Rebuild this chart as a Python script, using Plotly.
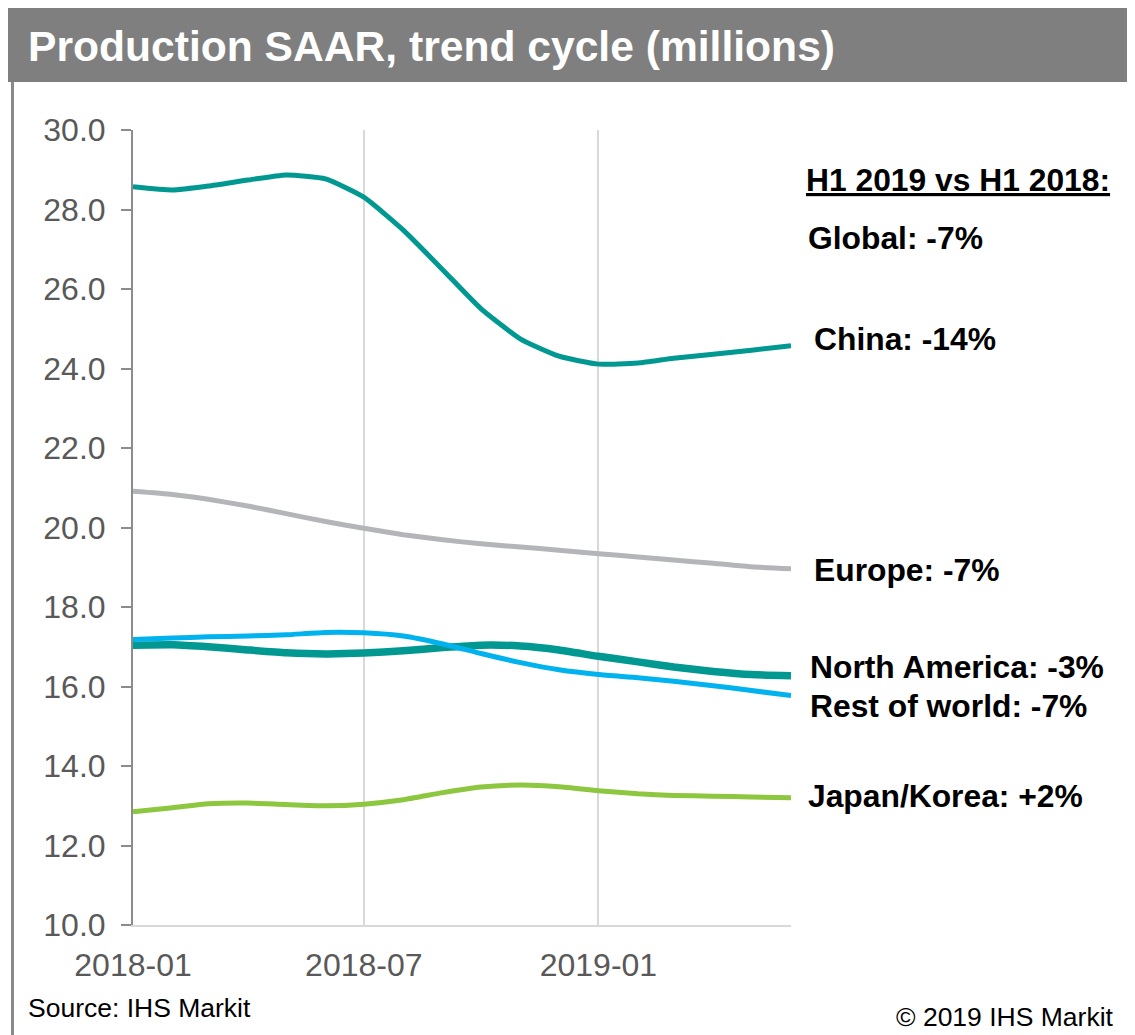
import plotly.graph_objects as go

# ---- data ----
months = ["2018-01-01", "2018-02-01", "2018-03-01", "2018-04-01", "2018-05-01", "2018-06-01",
          "2018-07-01", "2018-08-01", "2018-09-01", "2018-10-01", "2018-11-01", "2018-12-01",
          "2019-01-01", "2019-02-01", "2019-03-01", "2019-04-01", "2019-05-01", "2019-06-01"]
china = [28.57, 28.49, 28.59, 28.74, 28.87, 28.77, 28.31, 27.48, 26.48, 25.50, 24.74, 24.31,
         24.11, 24.14, 24.26, 24.36, 24.46, 24.57]
europe = [20.91, 20.83, 20.71, 20.54, 20.35, 20.15, 19.98, 19.82, 19.69, 19.59, 19.51, 19.43,
          19.34, 19.26, 19.18, 19.10, 19.01, 18.96]
north_america = [17.04, 17.05, 17.00, 16.92, 16.85, 16.82, 16.84, 16.90, 16.98, 17.04, 17.02, 16.92,
                 16.76, 16.62, 16.49, 16.38, 16.30, 16.27]
rest_of_world = [17.18, 17.22, 17.25, 17.27, 17.30, 17.36, 17.35, 17.27, 17.07, 16.83, 16.60, 16.42,
                 16.30, 16.22, 16.13, 16.02, 15.90, 15.77]
japan_korea = [12.85, 12.95, 13.05, 13.07, 13.03, 13.00, 13.04, 13.15, 13.33, 13.47, 13.52, 13.48,
               13.38, 13.30, 13.26, 13.24, 13.22, 13.20]

x_tickvals = ["2018-01-01", "2018-07-01", "2019-01-01"]
x_ticktext = ["2018-01", "2018-07", "2019-01"]
y_tickvals = [10, 12, 14, 16, 18, 20, 22, 24, 26, 28, 30]

labels = ["H1 2019 vs H1 2018:", "Global: -7%", "China: -14%", "Europe: -7%",
          "North America: -3%", "Rest of world: -7%", "Japan/Korea: +2%"]

title_text = "Production SAAR, trend cycle (millions)"
source_text = "Source: IHS Markit"
copyright_text = "© 2019 IHS Markit"

# ---- layout geometry (page pixels; the page body has an 8px margin) ----
OFF = 8
W, H = 1135 - OFF, 1035 - OFF
PLOT_L, PLOT_R, PLOT_T, PLOT_B = 133, 791, 130, 925   # target page pixels
L, T = PLOT_L - OFF, PLOT_T - OFF
R, B = W - (PLOT_R - OFF), H - (PLOT_B - OFF)
PW, PH = PLOT_R - PLOT_L, PLOT_B - PLOT_T


def px(x):
    return (x - PLOT_L) / PW


def py(y):
    return (PLOT_B - y) / PH


FONT = "Arial, Liberation Sans, sans-serif"
teal = "#009890"

fig = go.Figure()
series = [
    (europe, "#B3B5B9", 5, "Europe"),
    (china, teal, 5, "China"),
    (japan_korea, "#8DC63F", 5, "Japan/Korea"),
    (north_america, teal, 7.5, "North America"),
    (rest_of_world, "#00B2EE", 5, "Rest of world"),
]
for vals, col, w, name in series:
    fig.add_trace(go.Scatter(x=months, y=vals, mode="lines", name=name,
                             line=dict(color=col, width=w, shape="spline", smoothing=0.5),
                             hoverinfo="x+y+name"))

shapes = [
    dict(type="rect", xref="paper", yref="paper", x0=px(5), x1=px(1145), y0=py(82), y1=py(4),
         fillcolor="#7F7F7F", line=dict(width=0), layer="below"),
    dict(type="line", xref="paper", yref="paper", x0=px(12.5), x1=px(12.5), y0=py(82), y1=py(1045),
         line=dict(color="#8A8A8A", width=3), layer="below"),
]

annotations = [
    dict(text="<b>" + title_text + "</b>", x=px(26), y=py(46), xref="paper", yref="paper",
         xanchor="left", yanchor="middle", showarrow=False,
         font=dict(family=FONT, size=42.6, color="white")),
    dict(text=source_text, x=px(26), y=py(1008), xref="paper", yref="paper",
         xanchor="left", yanchor="middle", showarrow=False,
         font=dict(family=FONT, size=26.5, color="black")),
    dict(text=copyright_text, x=px(1116), y=py(1017), xref="paper", yref="paper",
         xanchor="right", yanchor="middle", showarrow=False,
         font=dict(family=FONT, size=26.5, color="black")),
]
label_pos = [(804, 180), (806, 238), (812, 339), (812, 570), (808, 667), (808, 706), (806, 796)]
for i, (txt, (lx, ly)) in enumerate(zip(labels, label_pos)):
    t = "<b><u>" + txt + "</u></b>" if i == 0 else "<b>" + txt + "</b>"
    annotations.append(dict(text=t, x=px(lx), y=py(ly), xref="paper", yref="paper",
                            xanchor="left", yanchor="middle", showarrow=False,
                            font=dict(family=FONT, size=31.8, color="black")))

fig.update_layout(
    width=W, height=H, autosize=False,
    margin=dict(l=L, r=R, t=T, b=B, pad=0),
    paper_bgcolor="white", plot_bgcolor="white",
    showlegend=False,
    shapes=shapes, annotations=annotations,
    font=dict(family=FONT, color="#595959"),
    xaxis=dict(range=["2018-01-01", "2019-06-01"], tickvals=x_tickvals, ticktext=x_ticktext,
               showgrid=True, gridcolor="#D9D9D9", gridwidth=2,
               showline=True, linecolor="#D9D9D9", linewidth=2,
               ticks="outside", ticklen=11, tickcolor="rgba(0,0,0,0)",
               tickfont=dict(family=FONT, size=32, color="#595959"),
               zeroline=False, fixedrange=True),
    yaxis=dict(range=[10, 30], tickvals=y_tickvals, tickformat=".1f",
               showgrid=False, showline=True, linecolor="#8C8C8C", linewidth=2,
               ticks="outside", ticklen=10, tickcolor="#8C8C8C", tickwidth=2,
               ticklabelstandoff=9,
               tickfont=dict(family=FONT, size=32, color="#595959"),
               zeroline=False, fixedrange=True),
)

fig.write_html("out.html")
